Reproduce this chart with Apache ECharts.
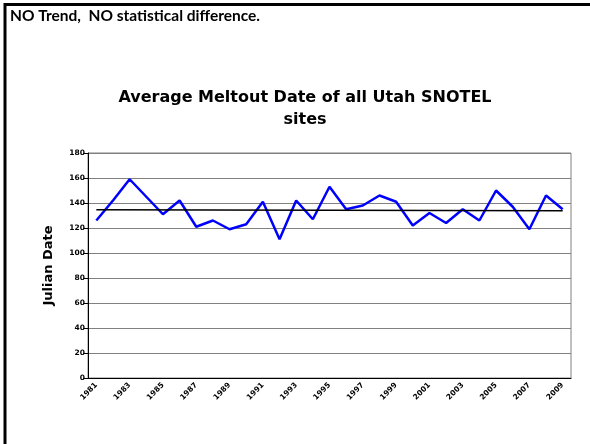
<!DOCTYPE html>
<html>
<head>
<meta charset="utf-8">
<script src="https://cdn.jsdelivr.net/npm/echarts@6/dist/echarts.min.js"></script>
<style>
  html, body { margin: 0; padding: 0; background: #fff; }
  #chart { width: 590px; height: 444px; }
</style>
</head>
<body>
<div id="chart"></div>
<script>
// 年份 (x 轴)
var years = ['1981','1982','1983','1984','1985','1986','1987','1988','1989','1990',
             '1991','1992','1993','1994','1995','1996','1997','1998','1999','2000',
             '2001','2002','2003','2004','2005','2006','2007','2008','2009'];
// 平均融雪日期 (Julian Date)
var meltout = [126, 142, 159, 145, 131, 142, 121, 126, 119, 123,
               141, 111, 142, 127, 153, 135, 138, 146, 141, 122,
               132, 124, 135, 126, 150, 137, 119, 146, 135];
// 趋势线 两端的值
var trendEnds = [134.6, 133.9];

var chart = echarts.init(document.getElementById('chart'));

var chartFont = 'DejaVu Sans';

var option = {
    backgroundColor: '#fff',
    animation: false,
    title: [{
        // 左上角的说明文字
        text: 'NO Trend,  NO statistical difference.',
        left: 5,
        top: 3,
        textStyle: { fontFamily: 'Lato', fontWeight: 'bold', fontSize: 15.5, color: '#000' }
    }, {
        text: 'Average Meltout Date of all Utah SNOTEL\nsites',
        left: 300,
        top: 82,
        textAlign: 'center',
        textStyle: { fontFamily: chartFont, fontWeight: 'bold', fontSize: 16, lineHeight: 22, color: '#000' }
    }],
    grid: {
        left: 88, right: 19, top: 153, bottom: 66,
        show: true,
        borderColor: '#808080',
        borderWidth: 1
    },
    xAxis: {
        type: 'category',
        data: years,
        boundaryGap: true,
        axisLine: { lineStyle: { color: '#000', width: 1 } },
        axisTick: { interval: 0, length: 4, lineStyle: { color: '#000' } },
        axisLabel: {
            interval: 1,
            rotate: 45,
            margin: 6,
            fontFamily: chartFont,
            fontWeight: 'bold',
            fontSize: 7.5,
            color: '#000'
        },
        splitLine: { show: false }
    },
    yAxis: {
        type: 'value',
        min: 0, max: 180, interval: 20,
        name: 'Julian Date',
        nameLocation: 'middle',
        nameGap: 33,
        nameTextStyle: { fontFamily: chartFont, fontWeight: 'bold', fontSize: 13, color: '#000' },
        axisLine: { show: true, lineStyle: { color: '#000', width: 1 } },
        axisTick: { show: true, length: 5, lineStyle: { color: '#000' } },
        axisLabel: { margin: 3, fontFamily: chartFont, fontWeight: 'bold', fontSize: 7.5, color: '#000' },
        splitLine: { lineStyle: { color: '#808080', width: 1 } }
    },
    series: [{
        name: 'Meltout',
        type: 'line',
        data: meltout,
        symbol: 'none',
        lineStyle: { color: '#0000ff', width: 2.5 },
        z: 3
    }, {
        // 趋势线
        name: 'Trend',
        type: 'line',
        data: [[years[0], trendEnds[0]], [years[years.length - 1], trendEnds[1]]],
        symbol: 'none',
        lineStyle: { color: '#000', width: 1.5 },
        z: 4
    }],
    graphic: [{
        // 上边和左边的黑框
        type: 'polyline',
        shape: { points: [[5, 444], [5, 4.5], [590, 4.5]] },
        style: { stroke: '#000', lineWidth: 3, fill: null }
    }]
};

chart.setOption(option);
</script>
</body>
</html>
